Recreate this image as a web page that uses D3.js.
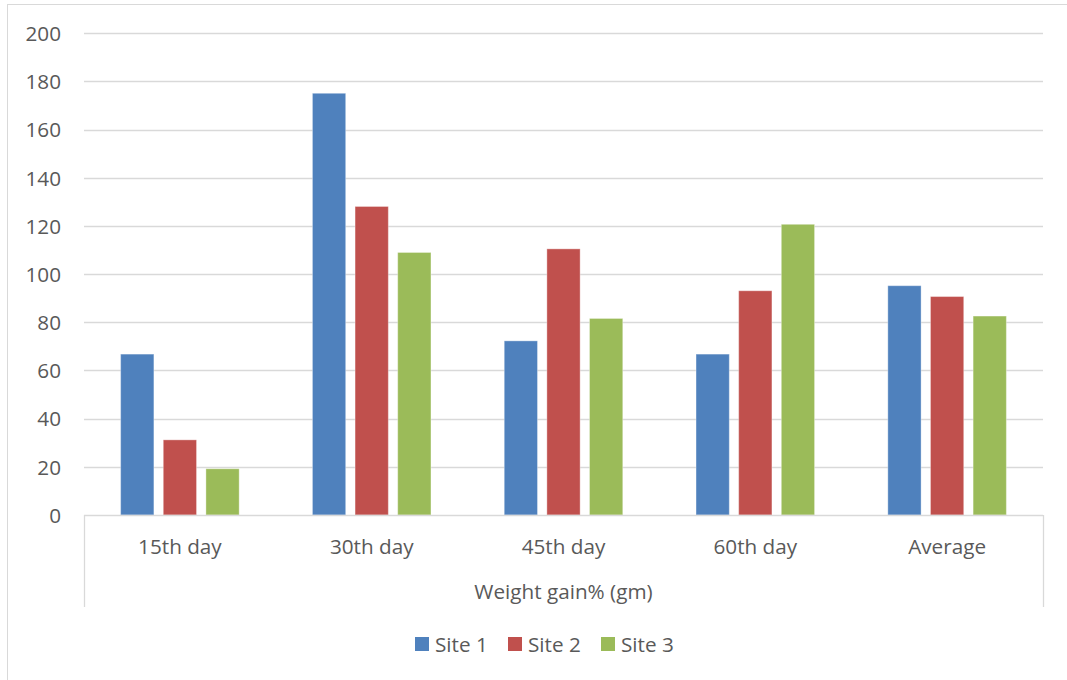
<!DOCTYPE html>
<html>
<head>
<meta charset="utf-8">
<script src="https://cdn.jsdelivr.net/npm/d3@7"></script>
<style>
  html, body { margin: 0; padding: 0; background: #fff; }
  svg { display: block; }
  text { font-family: "Open Sans", "Noto Sans", sans-serif; fill: #595959; }
</style>
</head>
<body>
<svg id="chart" width="1067" height="680"></svg>
<script>
// Weight gain% (gm) by sampling day and site
const categories = ["15th day", "30th day", "45th day", "60th day", "Average"];
const seriesNames = ["Site 1", "Site 2", "Site 3"];
const site1 = [66.8, 175.1, 72.3, 66.8, 95.2];
const site2 = [31.2, 128.1, 110.5, 93.1, 90.7];
const site3 = [19.2, 109.0, 81.6, 120.7, 82.6];
const yTicks = [0, 20, 40, 60, 80, 100, 120, 140, 160, 180, 200];
const axisTitle = "Weight gain% (gm)";
const colors = ["#4F81BD", "#C0504D", "#9BBB59"];

const seriesValues = [site1, site2, site3];
const fontSize = 20.7;

const svg = d3.select("#chart");

// Chart area frame
svg.append("rect")
  .attr("x", 7.5).attr("y", 4.5)
  .attr("width", 1080).attr("height", 700)
  .attr("fill", "#fff")
  .attr("stroke", "#d9d9d9")
  .attr("stroke-width", 1);

const plot = { left: 84, right: 1043, top: 33.3, bottom: 515 };

const y = d3.scaleLinear()
  .domain([0, 200])
  .range([plot.bottom, plot.top]);

const x0 = d3.scaleBand()
  .domain(categories)
  .range([plot.left, plot.right])
  .padding(0);

const bw = x0.bandwidth();
const outerGap = bw * 0.191;
const x1 = d3.scaleBand()
  .domain(seriesNames)
  .range([outerGap, bw - outerGap])
  .paddingInner(0.22)
  .paddingOuter(0);

// Horizontal gridlines
svg.append("g")
  .selectAll("line")
  .data(yTicks.filter(t => t > 0))
  .join("line")
  .attr("x1", plot.left).attr("x2", plot.right)
  .attr("y1", d => Math.round(y(d)) + 0.5)
  .attr("y2", d => Math.round(y(d)) + 0.5)
  .attr("stroke", "#d9d9d9")
  .attr("stroke-width", 1.3);

// Y axis labels
const yAxis = d3.axisLeft(y).tickValues(yTicks).tickSize(0).tickPadding(0);
const yg = svg.append("g")
  .attr("transform", `translate(61,0)`)
  .call(yAxis);
yg.select(".domain").remove();
yg.selectAll("text")
  .attr("font-size", fontSize)
  .attr("font-family", "'Open Sans', sans-serif")
  .attr("fill", "#595959")
  .attr("dy", "0.35em");

// Bars
const groups = svg.append("g")
  .selectAll("g")
  .data(categories)
  .join("g")
  .attr("transform", d => `translate(${x0(d)},0)`);

groups.selectAll("rect")
  .data((d, i) => seriesNames.map((s, j) => ({ series: s, value: seriesValues[j][i], j })))
  .join("rect")
  .attr("x", d => x1(d.series))
  .attr("width", x1.bandwidth())
  .attr("y", d => y(d.value))
  .attr("height", d => y(0) - y(d.value))
  .attr("fill", d => colors[d.j])
  .attr("stroke", "#ffffff")
  .attr("stroke-opacity", 0.35)
  .attr("stroke-width", 1);

// Category axis: baseline plus outer group dividers
const xAxisG = svg.append("g");
xAxisG.append("line")
  .attr("x1", plot.left).attr("x2", plot.right)
  .attr("y1", plot.bottom + 0.5).attr("y2", plot.bottom + 0.5)
  .attr("stroke", "#d9d9d9").attr("stroke-width", 1.3);
[plot.left, plot.right].forEach(px => {
  xAxisG.append("line")
    .attr("x1", px + 0.5).attr("x2", px + 0.5)
    .attr("y1", plot.bottom).attr("y2", 607)
    .attr("stroke", "#d9d9d9").attr("stroke-width", 1.3);
});

const xAxis = d3.axisBottom(x0).tickSize(0).tickPadding(0);
const xg = svg.append("g")
  .attr("transform", `translate(0,554)`)
  .call(xAxis);
xg.select(".domain").remove();
xg.selectAll("text")
  .attr("font-size", fontSize)
  .attr("font-family", "'Open Sans', sans-serif")
  .attr("fill", "#595959")
  .attr("dy", 0)
  .attr("y", 0);

// Outer category title
svg.append("text")
  .attr("x", (plot.left + plot.right) / 2)
  .attr("y", 599)
  .attr("text-anchor", "middle")
  .attr("font-size", fontSize)
  .text(axisTitle);

// Legend
const legendX = [415, 508, 601];
const legend = svg.append("g")
  .selectAll("g")
  .data(seriesNames)
  .join("g")
  .attr("transform", (d, i) => `translate(${legendX[i]},637)`);
legend.append("rect")
  .attr("width", 14).attr("height", 14)
  .attr("fill", (d, i) => colors[i]);
legend.append("text")
  .attr("x", 20).attr("y", 14.5)
  .attr("font-size", fontSize)
  .text(d => d);
</script>
</body>
</html>
